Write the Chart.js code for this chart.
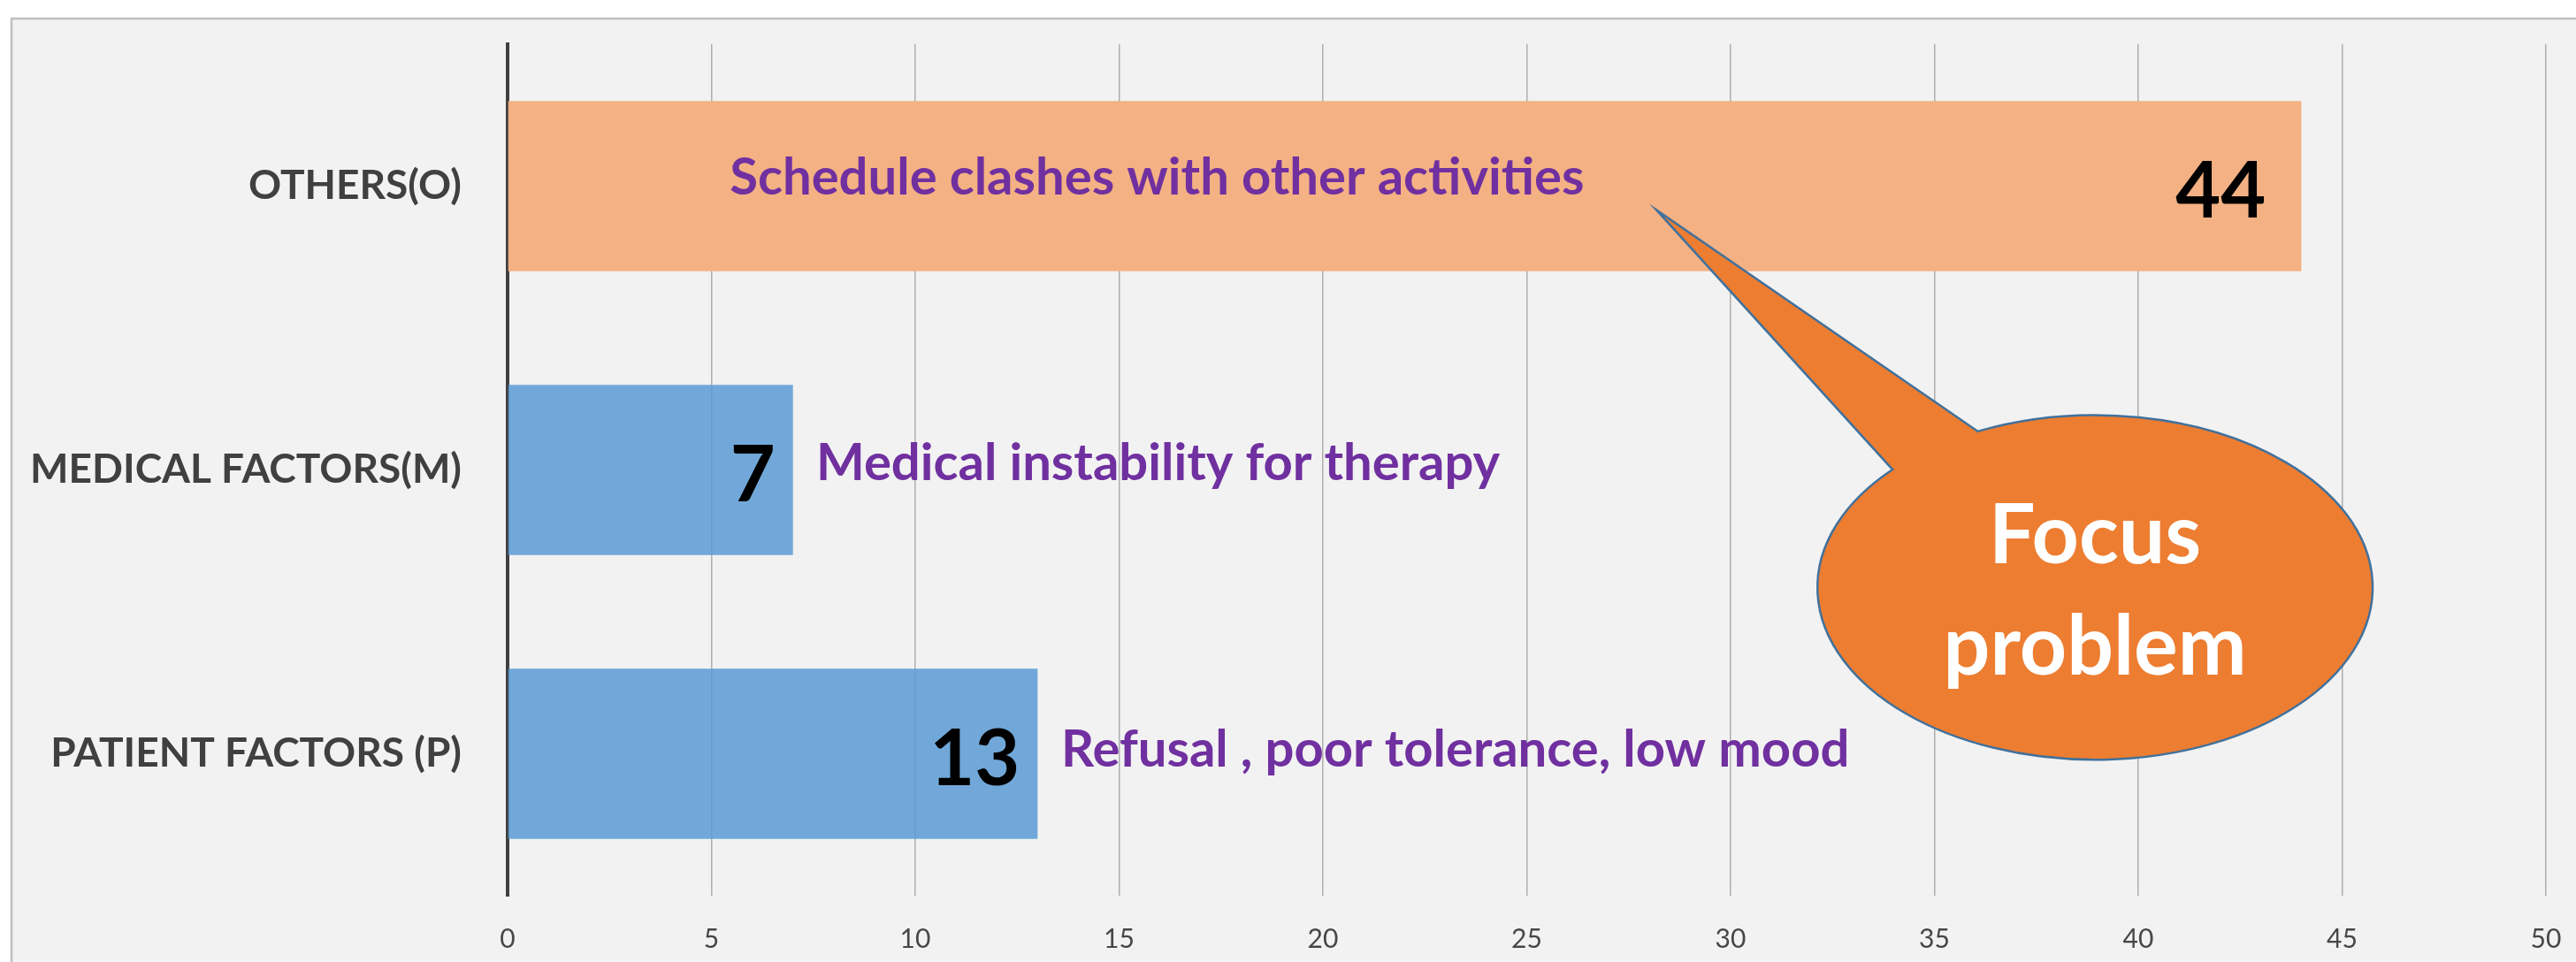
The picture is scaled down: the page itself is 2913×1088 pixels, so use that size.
<!DOCTYPE html>
<html>
<head>
<meta charset="utf-8">
<script src="https://cdn.jsdelivr.net/npm/chart.js@4.4.1/dist/chart.umd.min.js"></script>
<style>
  html, body { margin: 0; padding: 0; background: #ffffff; }
  #wrap { width: 2913px; height: 1088px; position: relative; }
</style>
</head>
<body>
<div id="wrap"><canvas id="myChart"></canvas></div>
<script>
// data
var categories = ['OTHERS(O)', 'MEDICAL FACTORS(M)', 'PATIENT FACTORS (P)'];
var counts = [44, 7, 13];
var notes = ['Schedule clashes with other activities', 'Medical instability for therapy', 'Refusal , poor tolerance, low mood'];
var noteStart = [5.45, 7.57, 13.58];   // where each note begins, in x units
var xTicks = [0, 5, 10, 15, 20, 25, 30, 35, 40, 45, 50];
var calloutText = ['Focus', 'problem'];

var FONT = 'Lato, "Open Sans", sans-serif';

// frame background like the Excel chart area
var framePlugin = {
    id: 'frame',
    beforeDraw: function(chart) {
        var c = chart.ctx;
        c.save();
        c.fillStyle = '#ffffff';
        c.fillRect(0, 0, chart.width, chart.height);
        c.fillStyle = '#f2f2f2';
        c.fillRect(13, 21, chart.width, chart.height);
        c.strokeStyle = '#bfbfbf';
        c.lineWidth = 2.5;
        c.beginPath();
        c.moveTo(13, chart.height + 5);
        c.lineTo(13, 21);
        c.lineTo(chart.width + 5, 21);
        c.stroke();
        c.restore();
    }
};

// value labels, notes and the callout
var labelPlugin = {
    id: 'labels',
    afterDatasetsDraw: function(chart) {
        var c = chart.ctx;
        var xs = chart.scales.x, ys = chart.scales.y;
        var meta = chart.getDatasetMeta(0);
        var inset = [40, 20, 20];
        c.save();

        // purple notes
        c.font = 'bold 58px ' + FONT;
        c.fillStyle = '#7030a0';
        c.textAlign = 'left';
        c.textBaseline = 'alphabetic';
        var noteDy = [9, 11, 14];
        notes.forEach(function(t, i) {
            c.fillText(t, xs.getPixelForValue(noteStart[i]), ys.getPixelForValue(i) + noteDy[i]);
        });

        // bar values
        c.font = 'bold 88px ' + FONT;
        c.fillStyle = '#000000';
        c.textAlign = 'right';
        meta.data.forEach(function(bar, i) {
            c.fillText(String(counts[i]), bar.x - inset[i], bar.y + 35);
        });

        // callout
        var cx = xs.getPixelForValue(38.94), cy = ys.getPixelForValue(1.414);
        var rx = xs.getPixelForValue(38.94 + 6.81) - cx;
        var ry = ys.getPixelForValue(1.414 + 0.607) - cy;
        var tip = [xs.getPixelForValue(28.18), ys.getPixelForValue(0.084)];
        var a = [xs.getPixelForValue(36.07), ys.getPixelForValue(0.866)];
        var b = [xs.getPixelForValue(33.99), ys.getPixelForValue(1.0)];
        var ta = Math.atan2((a[1] - cy) / ry, (a[0] - cx) / rx);
        var tb = Math.atan2((b[1] - cy) / ry, (b[0] - cx) / rx);
        c.beginPath();
        c.moveTo(cx + rx * Math.cos(ta), cy + ry * Math.sin(ta));
        c.lineTo(tip[0], tip[1]);
        c.lineTo(cx + rx * Math.cos(tb), cy + ry * Math.sin(tb));
        c.ellipse(cx, cy, rx, ry, 0, tb, ta, true);
        c.closePath();
        c.fillStyle = '#ed7d31';
        c.fill();
        c.strokeStyle = '#41719c';
        c.lineWidth = 2.5;
        c.stroke();

        c.font = 'bold 93px ' + FONT;
        c.fillStyle = '#ffffff';
        c.textAlign = 'center';
        c.fillText(calloutText[0], cx, cy - 27);
        c.fillText(calloutText[1], cx, cy + 99);
        c.restore();
    }
};

var ctx = document.getElementById('myChart').getContext('2d');
var myChart = new Chart(ctx, {
    type: 'bar',
    data: {
        labels: categories,
        datasets: [{
            label: 'Count',
            data: counts,
            backgroundColor: ['#f4b183', 'rgba(91,155,213,0.85)', 'rgba(91,155,213,0.85)'],
            borderWidth: 0,
            categoryPercentage: 1.0,
            barPercentage: 0.6
        }]
    },
    options: {
        indexAxis: 'y',
        responsive: true,
        maintainAspectRatio: false,
        animation: false,
        layout: {
            padding: { top: 50, right: 34, left: 0, bottom: 0 }
        },
        plugins: {
            legend: { display: false },
            tooltip: { enabled: false }
        },
        scales: {
            x: {
                min: 0,
                max: 50,
                afterBuildTicks: function(scale) {
                    scale.ticks = xTicks.map(function(v) { return { value: v }; });
                },
                afterFit: function(scale) {
                    scale.height = 75;
                    scale.paddingLeft = 0;
                    scale.paddingRight = 0;
                },
                grid: {
                    color: function(c) { return c.tick && c.tick.value === 0 ? 'rgba(0,0,0,0)' : '#adadad'; },
                    lineWidth: 1.5,
                    drawTicks: false
                },
                border: { display: false },
                ticks: {
                    color: '#474747',
                    padding: 31,
                    maxRotation: 0,
                    font: { family: FONT, size: 30 }
                }
            },
            y: {
                afterFit: function(scale) {
                    scale.width = 574;
                    scale.paddingTop = 0;
                    scale.paddingBottom = 0;
                },
                grid: { display: false },
                border: { color: '#404040', width: 4 },
                ticks: {
                    color: '#404040',
                    padding: 44,
                    font: { family: FONT, size: 46, weight: 'bold' }
                }
            }
        }
    },
    plugins: [framePlugin, labelPlugin]
});
</script>
</body>
</html>
